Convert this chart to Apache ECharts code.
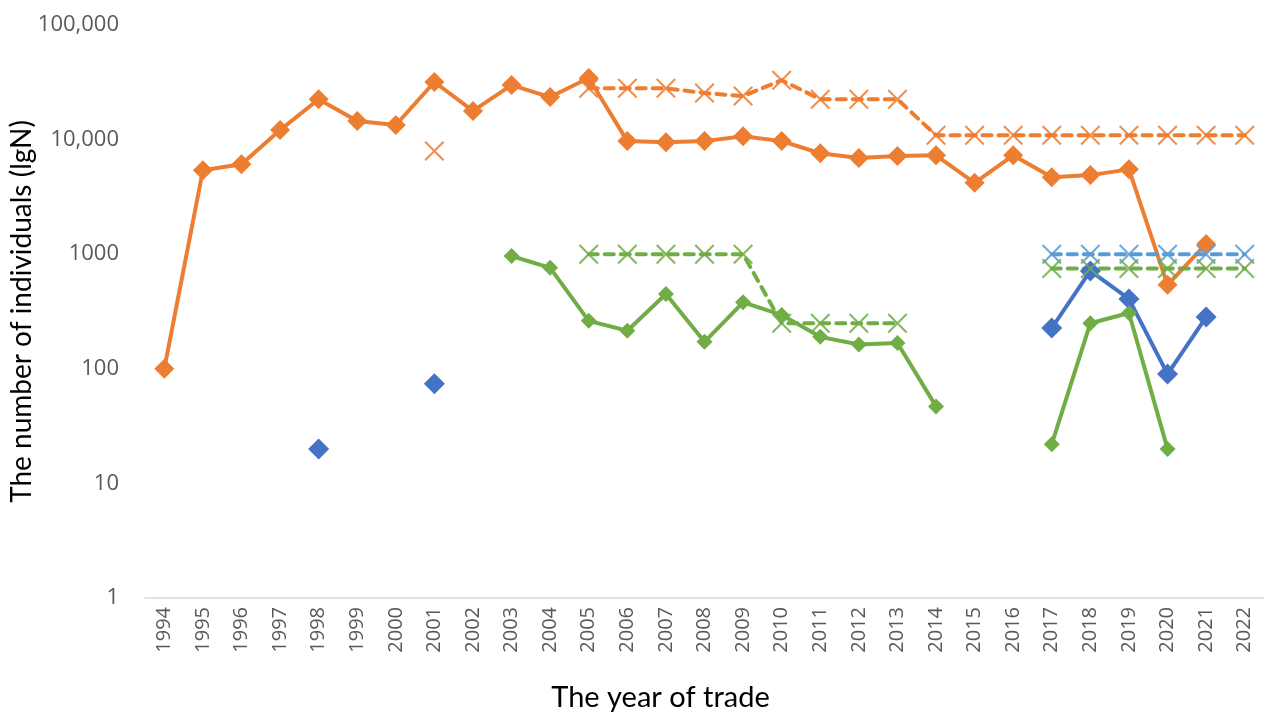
<!DOCTYPE html>
<html>
<head>
<meta charset="utf-8">
<script src="https://cdn.jsdelivr.net/npm/echarts@6/dist/echarts.min.js"></script>
<style>
  html, body { margin: 0; padding: 0; background: #fff; }
  #main { width: 1264px; height: 713px; }
</style>
</head>
<body>
<div id="main"></div>
<script>
// years on the x axis
var years = ['1994','1995','1996','1997','1998','1999','2000','2001','2002','2003','2004','2005','2006','2007',
             '2008','2009','2010','2011','2012','2013','2014','2015','2016','2017','2018','2019','2020','2021','2022'];

// orange, solid with diamonds
var orangeSolid = [100, 5400, 6100, 12100, 22500, 14500, 13400, 31800, 17800, 29900, 23500, 34500, 9700, 9500,
                   9700, 10700, 9700, 7600, 6900, 7200, 7300, 4200, 7300, 4700, 4900, 5500, 540, 1230, null];
// orange, dashed with crosses
var orangeDashed = [null, null, null, null, null, null, null, 7950, null, null, null, 28000, 28000, 28000,
                    25500, 24000, 33000, 22500, 22500, 22500, 10900, 10900, 10900, 10900, 10900, 10900, 10900, 10900, 10900];
// green, solid with diamonds
var greenSolid = [null, null, null, null, null, null, null, null, null, 965, 760, 262, 215, 450,
                  172, 380, 295, 190, 163, 168, 47, null, null, 22, 250, 307, 20, null, null];
// green, dashed with crosses
var greenDashed = [null, null, null, null, null, null, null, null, null, null, null, 1000, 1000, 1000,
                   1000, 1000, 250, 250, 250, 250, null, null, null, 750, 750, 750, 750, 750, 750];
// blue, solid with diamonds
var blueSolid = [null, null, null, null, 20, null, null, 74, null, null, null, null, null, null,
                 null, null, null, null, null, null, null, null, null, 227, 715, 407, 90, 283, null];
// light blue, dashed with crosses
var blueDashed = [null, null, null, null, null, null, null, null, null, null, null, null, null, null,
                  null, null, null, null, null, null, null, null, null, 1000, 1000, 1000, 1000, 1000, 1000];

var yTickText = {1: '1', 10: '10', 100: '100', 1000: '1000', 10000: '10,000', 100000: '100,000'};

var crossPath = 'path://M0,1.5 L1.5,0 L10,8.5 L18.5,0 L20,1.5 L11.5,10 L20,18.5 L18.5,20 L10,11.5 L1.5,20 L0,18.5 L8.5,10 Z';

function solidLine(name, data, color, size) {
    return {
        name: name,
        type: 'line',
        data: data,
        connectNulls: false,
        symbol: 'diamond',
        symbolSize: size,
        showAllSymbol: true,
        lineStyle: { color: color, width: 4 },
        itemStyle: { color: color },
        emphasis: { disabled: true }
    };
}

function dashedLine(name, data, color) {
    return {
        name: name,
        type: 'line',
        data: data,
        connectNulls: false,
        symbol: crossPath,
        symbolSize: 20,
        showAllSymbol: true,
        lineStyle: { color: color, width: 4, type: [9, 7], cap: 'round' },
        itemStyle: { color: color, opacity: 0.85 },
        emphasis: { disabled: true }
    };
}

var myChart = echarts.init(document.getElementById('main'));
myChart.setOption({
    animation: false,
    backgroundColor: '#fff',
    grid: { left: 145, right: 0, top: 25, bottom: 115, containLabel: false, outerBoundsMode: 'none' },
    xAxis: {
        type: 'category',
        data: years,
        boundaryGap: true,
        axisLine: { lineStyle: { color: '#D9D9D9', width: 1.5 } },
        axisTick: { show: false },
        axisLabel: { rotate: 90, color: '#595959', fontFamily: 'Open Sans', fontSize: 20, margin: 9, interval: 0 },
        name: 'The year of trade',
        nameLocation: 'middle',
        nameGap: 85,
        nameMoveOverlap: false,
        nameTextStyle: { color: '#000', fontFamily: 'Lato', fontSize: 29, padding: [0, 88, 0, 0] }
    },
    yAxis: {
        type: 'log',
        logBase: 10,
        min: 1,
        max: 100000,
        axisLine: { show: false },
        axisTick: { show: false },
        splitLine: { show: false },
        axisLabel: {
            color: '#595959', fontFamily: 'Open Sans', fontSize: 22, margin: 26,
            formatter: function (v) { return yTickText[Math.round(v)] || ''; }
        },
        name: 'The number of individuals (lgN)',
        nameLocation: 'middle',
        nameGap: 109,
        nameMoveOverlap: false,
        nameTextStyle: { color: '#000', fontFamily: 'Lato', fontSize: 28 }
    },
    series: [
        solidLine('blue', blueSolid, '#4472C4', 21),
        solidLine('orange', orangeSolid, '#ED7D31', 20),
        solidLine('green', greenSolid, '#70AD47', 16),
        dashedLine('blue dashed', blueDashed, '#5B9BD5'),
        dashedLine('orange dashed', orangeDashed, '#ED7D31'),
        dashedLine('green dashed', greenDashed, '#70AD47')
    ]
});
</script>
</body>
</html>
